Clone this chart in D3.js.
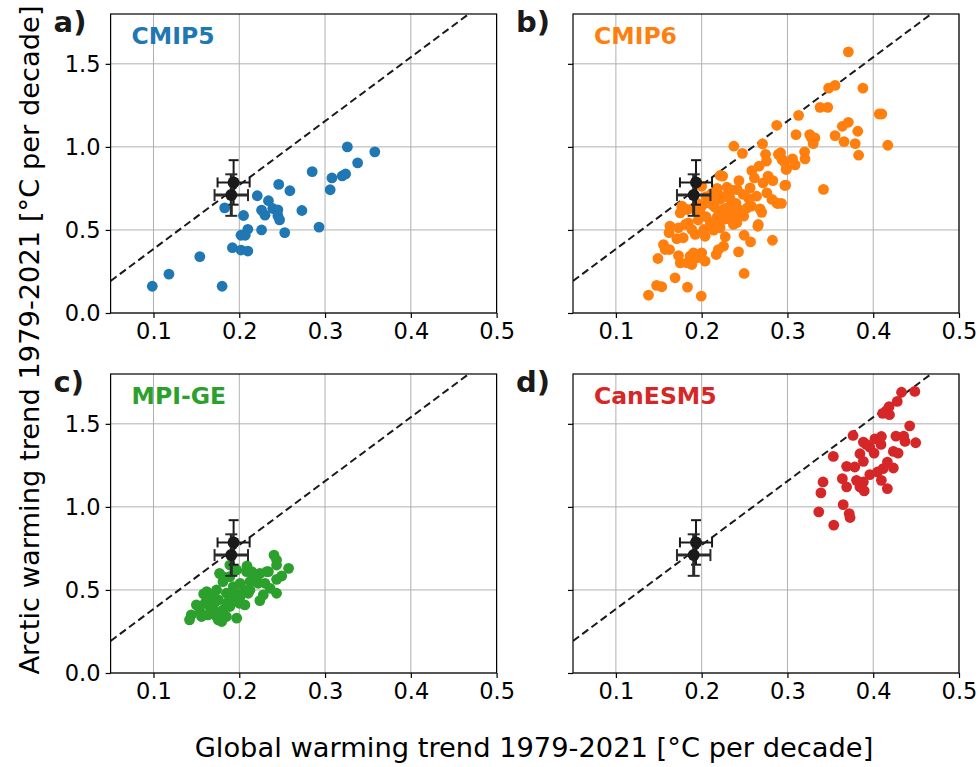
<!DOCTYPE html>
<html><head><meta charset="utf-8">
<script src="https://cdn.jsdelivr.net/npm/d3@7/dist/d3.min.js"></script>
<style>body{margin:0;background:#fff} text{font-family:"DejaVu Sans",sans-serif}</style>
</head><body><svg id="c" width="979" height="767"></svg>
<script>
// ---- data ----
const xTicks = [0.1, 0.2, 0.3, 0.4, 0.5];
const yTicks = [0.0, 0.5, 1.0, 1.5];
const ampRatio = 3.85; // dashed reference line slope

const obsGlobal = [0.1934, 0.1907];
const obsArctic = [0.786, 0.710];
const obsGlobalErr = [0.0187, 0.0195];
const obsArcticErr = [0.134, 0.125];

const cmip5 = [
[0.0986,0.161],[0.118,0.234],[0.154,0.339],[0.180,0.161],[0.183,0.633],[0.192,0.393],
[0.202,0.379],[0.210,0.373],[0.202,0.468],[0.207,0.468],[0.210,0.504],[0.205,0.587],
[0.221,0.706],[0.226,0.619],[0.230,0.589],[0.226,0.500],[0.234,0.676],[0.239,0.629],
[0.245,0.621],[0.245,0.585],[0.247,0.561],[0.246,0.774],[0.253,0.484],[0.259,0.736],
[0.273,0.617],[0.285,0.851],[0.293,0.517],[0.306,0.742],[0.308,0.813],[0.320,0.825],
[0.324,0.837],[0.326,1.000],[0.338,0.904],[0.358,0.970]
];

const cmip6 = [
[0.371,1.572],[0.348,1.354],[0.3555,1.370],[0.388,1.354],[0.313,1.190],[0.338,1.238],[0.347,1.238],
[0.407,1.198],[0.410,1.198],[0.310,1.074],[0.326,1.074],[0.328,1.054],[0.332,1.054],[0.330,1.020],
[0.3555,1.068],[0.364,1.124],[0.371,1.148],[0.382,1.094],[0.366,1.032],[0.379,1.020],[0.383,0.950],
[0.417,1.010],[0.320,0.970],[0.3205,0.928],[0.306,0.928],[0.309,0.892],[0.299,0.868],[0.294,0.924],
[0.298,0.770],[0.342,0.744],[0.293,0.660],
[0.2875,1.130],[0.2375,1.004],[0.271,1.018],[0.2475,0.961],[0.2745,0.955],[0.292,0.965],[0.2755,0.914],
[0.2965,0.908],[0.2585,0.857],[0.267,0.884],[0.2985,0.864],[0.2215,0.828],[0.2245,0.824],[0.2435,0.797],
[0.2615,0.813],[0.2775,0.824],[0.283,0.797],[0.2715,0.783],[0.297,0.768],[0.2295,0.757],[0.2415,0.743],
[0.2565,0.753],[0.2185,0.720],[0.200,0.763],[0.2215,0.684],[0.233,0.690],[0.2485,0.714],[0.264,0.703],
[0.276,0.723],[0.282,0.684],[0.2875,0.663],[0.207,0.663],[0.215,0.639],[0.2295,0.633],[0.243,0.623],
[0.258,0.643],[0.268,0.627],[0.177,0.639],[0.198,0.603],[0.237,0.583],[0.249,0.583],[0.266,0.533],
[0.163,0.523],[0.2895,0.955],[0.2935,0.925],
[0.2885,0.659],[0.270,0.606],[0.2655,0.522],[0.2495,0.468],[0.257,0.428],[0.2825,0.438],[0.243,0.368],
[0.2495,0.238],[0.2275,0.459],[0.2255,0.402],[0.2195,0.382],[0.217,0.352],[0.237,0.533],[0.241,0.543],
[0.2175,0.573],[0.204,0.462],[0.200,0.362],[0.204,0.312],[0.1905,0.362],[0.1865,0.342],[0.1945,0.332],
[0.1885,0.292],[0.183,0.302],[0.175,0.302],[0.173,0.346],[0.1625,0.382],[0.1555,0.412],[0.1575,0.382],
[0.149,0.328],[0.169,0.212],[0.1835,0.156],[0.1535,0.158],[0.1475,0.166],[0.138,0.108],[0.1995,0.102],
[0.162,0.484],[0.171,0.447],[0.1785,0.453],[0.173,0.513],[0.181,0.533],[0.1925,0.473],[0.2025,0.503],
[0.214,0.499],[0.2215,0.513],[0.2335,0.563],[0.241,0.573],[0.1845,0.543],[0.1885,0.503],[0.175,0.603],
[0.183,0.623],[0.200,0.643],[0.212,0.653],[0.2255,0.623],[0.2335,0.633],[0.245,0.603],[0.253,0.633],
[0.177,0.643],[0.2255,0.563],[0.2175,0.533],[0.210,0.543],
[0.205,0.700],[0.212,0.720],[0.218,0.750],[0.226,0.700],[0.235,0.740],[0.240,0.660],[0.255,0.690],
[0.210,0.680],[0.195,0.660],[0.190,0.630],[0.230,0.600],[0.220,0.600],[0.205,0.580],[0.196,0.560]
];

const mpige = [
[0.2405,0.710],[0.2435,0.680],[0.2435,0.650],[0.2575,0.630],[0.2495,0.584],[0.2435,0.564],[0.2435,0.480],
[0.232,0.610],[0.224,0.600],[0.224,0.436],[0.209,0.644],[0.2165,0.580],[0.2105,0.480],[0.2065,0.410],
[0.197,0.330],[0.201,0.540],[0.189,0.580],[0.181,0.580],[0.193,0.520],[0.185,0.480],[0.1735,0.500],
[0.1755,0.440],[0.189,0.400],[0.181,0.380],[0.185,0.340],[0.1795,0.310],[0.1755,0.320],[0.1655,0.400],
[0.162,0.490],[0.1585,0.476],[0.1655,0.450],[0.171,0.420],[0.150,0.410],[0.154,0.370],[0.1635,0.350],
[0.144,0.350],[0.142,0.320],[0.156,0.340],[0.1735,0.340],[0.2085,0.610],[0.2145,0.610],[0.230,0.540],
[0.236,0.510],[0.222,0.540],[0.2125,0.550],[0.197,0.620],[0.181,0.550],[0.1695,0.460],[0.193,0.440],
[0.201,0.460],[0.2125,0.500],[0.228,0.470],[0.234,0.610],[0.189,0.650],[0.177,0.600],[0.205,0.500],
[0.195,0.480],[0.185,0.420],[0.200,0.420],[0.220,0.570],[0.170,0.380],[0.160,0.420]
];

const canesm5 = [
[0.433,1.690],[0.4485,1.695],[0.428,1.635],[0.4185,1.603],[0.4155,1.580],[0.411,1.563],[0.419,1.555],
[0.4425,1.488],[0.3765,1.430],[0.3885,1.390],[0.392,1.376],[0.396,1.360],[0.402,1.410],[0.4095,1.424],
[0.409,1.376],[0.4265,1.426],[0.4355,1.426],[0.437,1.394],[0.4495,1.386],[0.4235,1.334],[0.429,1.324],
[0.401,1.324],[0.3845,1.320],[0.3535,1.304],[0.3885,1.274],[0.4165,1.270],[0.369,1.244],[0.3785,1.240],
[0.4115,1.230],[0.4235,1.234],[0.405,1.210],[0.396,1.194],[0.364,1.170],[0.3415,1.150],[0.3805,1.160],
[0.3885,1.150],[0.4095,1.160],[0.369,1.120],[0.3845,1.120],[0.4165,1.110],[0.3895,1.096],[0.339,1.084],
[0.365,1.014],[0.3365,0.970],[0.372,0.960],[0.373,0.936],[0.354,0.890]
];

const panelNames = ["CMIP5", "CMIP6", "MPI-GE", "CanESM5"];
const panelLetters = ["a)", "b)", "c)", "d)"];
const panelColors = ["#1f77b4", "#ff7f0e", "#2ca02c", "#d62728"];
const panelData = [cmip5, cmip6, mpige, canesm5];

// ---- layout ----
const svg = d3.select("#c");
const W = 386, H = 299;
const lefts = [110.6, 573, 110.6, 573];
const tops = [14, 14, 374, 374];

panelData.forEach((data, i) => {
  const L = lefts[i], T = tops[i];
  const x = d3.scaleLinear().domain([0.05, 0.5]).range([L, L + W]);
  const y = d3.scaleLinear().domain([0, 1.8]).range([T + H, T]);
  const g = svg.append("g");

  // grid
  g.selectAll(".gx").data(xTicks).enter().append("line")
    .attr("x1", d => x(d)).attr("x2", d => x(d)).attr("y1", T).attr("y2", T + H)
    .attr("stroke", "#b0b0b0").attr("stroke-width", 1);
  g.selectAll(".gy").data(yTicks).enter().append("line")
    .attr("x1", L).attr("x2", L + W).attr("y1", d => y(d)).attr("y2", d => y(d))
    .attr("stroke", "#b0b0b0").attr("stroke-width", 1);

  // dashed reference line
  const clipId = "clip" + i;
  svg.append("clipPath").attr("id", clipId).append("rect")
    .attr("x", L).attr("y", T).attr("width", W).attr("height", H);
  const xe = 1.8 / ampRatio;
  g.append("line").attr("clip-path", `url(#${clipId})`)
    .attr("x1", x(0.05)).attr("y1", y(0.05 * ampRatio))
    .attr("x2", x(xe)).attr("y2", y(1.8))
    .attr("stroke", "#1a1a1a").attr("stroke-width", 2).attr("stroke-dasharray", "7.5,4");

  // scatter
  g.append("g").attr("clip-path", `url(#${clipId})`).selectAll("circle").data(data).enter().append("circle")
    .attr("cx", d => x(d[0])).attr("cy", d => y(d[1])).attr("r", 5.4)
    .attr("fill", panelColors[i]);

  // observations with error bars
  const og = g.append("g");
  obsGlobal.forEach((gx, k) => {
    const ax = obsArctic[k], ex = obsGlobalErr[k], ey = obsArcticErr[k];
    const sw = k === 1 ? 3 : 2;
    const col = k === 1 ? "#2b2b2b" : "#1a1a1a";
    const cap = k === 1 ? 6 : 5;
    og.append("line").attr("x1", x(gx - ex)).attr("x2", x(gx + ex)).attr("y1", y(ax)).attr("y2", y(ax))
      .attr("stroke", col).attr("stroke-width", sw);
    og.append("line").attr("x1", x(gx - ex)).attr("x2", x(gx - ex)).attr("y1", y(ax) - cap).attr("y2", y(ax) + cap)
      .attr("stroke", col).attr("stroke-width", 2);
    og.append("line").attr("x1", x(gx + ex)).attr("x2", x(gx + ex)).attr("y1", y(ax) - cap).attr("y2", y(ax) + cap)
      .attr("stroke", col).attr("stroke-width", 2);
    og.append("line").attr("x1", x(gx)).attr("x2", x(gx)).attr("y1", y(ax - ey)).attr("y2", y(ax + ey))
      .attr("stroke", col).attr("stroke-width", sw);
    og.append("line").attr("x1", x(gx) - cap).attr("x2", x(gx) + cap).attr("y1", y(ax - ey)).attr("y2", y(ax - ey))
      .attr("stroke", col).attr("stroke-width", 2);
    og.append("line").attr("x1", x(gx) - cap).attr("x2", x(gx) + cap).attr("y1", y(ax + ey)).attr("y2", y(ax + ey))
      .attr("stroke", col).attr("stroke-width", 2);
  });
  obsGlobal.forEach((gx, k) => {
    og.append("circle").attr("cx", x(gx)).attr("cy", y(obsArctic[k])).attr("r", 6).attr("fill", "#1a1a1a");
  });

  // frame
  g.append("rect").attr("x", L).attr("y", T).attr("width", W).attr("height", H)
    .attr("fill", "none").attr("stroke", "#000").attr("stroke-width", 1.2);

  // axes
  const ax = d3.axisBottom(x).tickValues(xTicks).tickFormat(d3.format(".1f")).tickSize(5).tickPadding(5);
  const axg = g.append("g").attr("transform", `translate(0,${T + H})`).call(ax);
  const ayFn = d3.axisLeft(y).tickValues(yTicks).tickSize(5).tickPadding(5)
    .tickFormat(i % 2 === 0 ? d3.format(".1f") : () => "");
  const ayg = g.append("g").attr("transform", `translate(${L},0)`).call(ayFn);
  [axg, ayg].forEach(a => {
    a.select(".domain").remove();
    a.selectAll("line").attr("stroke", "#000").attr("stroke-width", 1.2);
    a.selectAll("text").attr("font-size", 22.5).attr("fill", "#000")
      .style("font-family", "DejaVu Sans");
  });

  // panel letter and model name
  g.append("text").attr("x", L - 57).attr("y", T + 18).attr("font-size", 29).attr("font-weight", "bold")
    .attr("fill", "#1a1a1a").text(panelLetters[i]);
  g.append("text").attr("x", L + 21).attr("y", T + 30).attr("font-size", 23.5).attr("font-weight", "bold")
    .attr("fill", panelColors[i]).text(panelNames[i]);
});

// axis labels
svg.append("text").attr("x", 534).attr("y", 757).attr("text-anchor", "middle").attr("font-size", 27.3)
  .attr("fill", "#000").text("Global warming trend 1979-2021 [°C per decade]");
svg.append("text").attr("transform", "translate(39,340) rotate(-90)").attr("text-anchor", "middle")
  .attr("font-size", 27.3).attr("fill", "#000").text("Arctic warming trend 1979-2021 [°C per decade]");
</script></body></html>
